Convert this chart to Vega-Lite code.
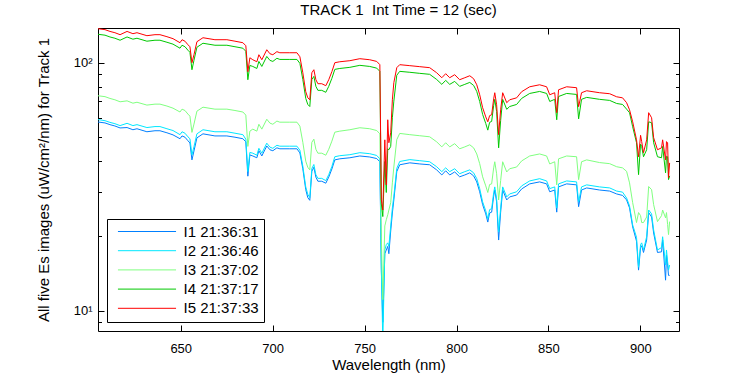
{
"$schema": "https://vega.github.io/schema/vega-lite/v6.json",
"width": 581, "height": 303,
"autosize": {"type": "none"},
"padding": {"left": 98, "top": 28, "right": 71, "bottom": 44},
"background": "white",
"title": {"text": "TRACK 1\u00a0 Int Time = 12 (sec)", "fontSize": 15, "font": "Liberation Sans", "fontWeight": "normal", "color": "black", "dx": 10, "dy": 15, "offset": 11, "baseline": "alphabetic"},
"data": {"values": [
{"wl":605.0,"I1 21:36:31":57.7,"I2 21:36:46":59.0,"I3 21:37:02":73.6,"I4 21:37:17":130.2,"I5 21:37:33":137.1},
{"wl":608.8,"I1 21:36:31":57.2,"I2 21:36:46":58.4,"I3 21:37:02":73.0,"I4 21:37:17":129.1,"I5 21:37:33":135.9},
{"wl":611.5,"I1 21:36:31":56.3,"I2 21:36:46":57.5,"I3 21:37:02":71.8,"I4 21:37:17":127.0,"I5 21:37:33":133.7},
{"wl":614.2,"I1 21:36:31":55.6,"I2 21:36:46":56.8,"I3 21:37:02":70.9,"I4 21:37:17":125.5,"I5 21:37:33":132.1},
{"wl":617.0,"I1 21:36:31":54.6,"I2 21:36:46":55.8,"I3 21:37:02":69.6,"I4 21:37:17":123.2,"I5 21:37:33":129.7},
{"wl":620.8,"I1 21:36:31":54.8,"I2 21:36:46":57.0,"I3 21:37:02":70.2,"I4 21:37:17":127.0,"I5 21:37:33":133.7},
{"wl":624.0,"I1 21:36:31":53.7,"I2 21:36:46":55.8,"I3 21:37:02":68.7,"I4 21:37:17":124.4,"I5 21:37:33":130.9},
{"wl":626.2,"I1 21:36:31":54.2,"I2 21:36:46":56.3,"I3 21:37:02":69.3,"I4 21:37:17":125.5,"I5 21:37:33":132.1},
{"wl":631.6,"I1 21:36:31":52.7,"I2 21:36:46":54.8,"I3 21:37:02":67.5,"I4 21:37:17":122.1,"I5 21:37:33":128.5},
{"wl":636.0,"I1 21:36:31":53.2,"I2 21:36:46":55.3,"I3 21:37:02":68.1,"I4 21:37:17":123.2,"I5 21:37:33":129.7},
{"wl":638.7,"I1 21:36:31":53.2,"I2 21:36:46":55.3,"I3 21:37:02":68.1,"I4 21:37:17":123.2,"I5 21:37:33":129.7},
{"wl":642.5,"I1 21:36:31":52.2,"I2 21:36:46":54.2,"I3 21:37:02":66.9,"I4 21:37:17":120.9,"I5 21:37:33":127.3},
{"wl":645.8,"I1 21:36:31":51.2,"I2 21:36:46":53.3,"I3 21:37:02":65.6,"I4 21:37:17":118.8,"I5 21:37:33":125.0},
{"wl":649.6,"I1 21:36:31":49.4,"I2 21:36:46":51.3,"I3 21:37:02":63.3,"I4 21:37:17":114.4,"I5 21:37:33":120.4},
{"wl":650.7,"I1 21:36:31":50.7,"I2 21:36:46":52.7,"I3 21:37:02":65.0,"I4 21:37:17":117.6,"I5 21:37:33":123.8},
{"wl":652.3,"I1 21:36:31":50.1,"I2 21:36:46":52.0,"I3 21:37:02":64.2,"I4 21:37:17":116.0,"I5 21:37:33":122.1},
{"wl":653.9,"I1 21:36:31":48.5,"I2 21:36:46":50.3,"I3 21:37:02":62.1,"I4 21:37:17":112.3,"I5 21:37:33":118.2},
{"wl":655.0,"I1 21:36:31":47.5,"I2 21:36:46":49.4,"I3 21:37:02":60.9,"I4 21:37:17":110.2,"I5 21:37:33":116.0},
{"wl":656.1,"I1 21:36:31":40.6,"I2 21:36:46":42.5,"I3 21:37:02":52.4,"I4 21:37:17":93.7,"I5 21:37:33":100.0},
{"wl":657.2,"I1 21:36:31":44.1,"I2 21:36:46":45.9,"I3 21:37:02":56.6,"I4 21:37:17":102.3,"I5 21:37:33":107.7},
{"wl":658.8,"I1 21:36:31":49.8,"I2 21:36:46":51.7,"I3 21:37:02":63.8,"I4 21:37:17":115.4,"I5 21:37:33":121.5},
{"wl":662.1,"I1 21:36:31":51.7,"I2 21:36:46":53.7,"I3 21:37:02":66.2,"I4 21:37:17":119.8,"I5 21:37:33":126.1},
{"wl":668.6,"I1 21:36:31":50.7,"I2 21:36:46":52.7,"I3 21:37:02":65.0,"I4 21:37:17":117.6,"I5 21:37:33":123.8},
{"wl":675.1,"I1 21:36:31":50.7,"I2 21:36:46":52.7,"I3 21:37:02":65.0,"I4 21:37:17":117.6,"I5 21:37:33":123.8},
{"wl":679.5,"I1 21:36:31":50.1,"I2 21:36:46":52.0,"I3 21:37:02":64.2,"I4 21:37:17":116.0,"I5 21:37:33":122.1},
{"wl":683.8,"I1 21:36:31":49.4,"I2 21:36:46":51.3,"I3 21:37:02":63.3,"I4 21:37:17":114.4,"I5 21:37:33":120.4},
{"wl":685.4,"I1 21:36:31":48.0,"I2 21:36:46":49.2,"I3 21:37:02":61.5,"I4 21:37:17":111.2,"I5 21:37:33":117.1},
{"wl":686.5,"I1 21:36:31":34.9,"I2 21:36:46":36.4,"I3 21:37:02":46.0,"I4 21:37:17":85.4,"I5 21:37:33":92.0},
{"wl":687.6,"I1 21:36:31":42.5,"I2 21:36:46":43.5,"I3 21:37:02":53.0,"I4 21:37:17":97.5,"I5 21:37:33":104.7},
{"wl":689.2,"I1 21:36:31":42.1,"I2 21:36:46":43.2,"I3 21:37:02":54.0,"I4 21:37:17":96.6,"I5 21:37:33":102.8},
{"wl":691.4,"I1 21:36:31":41.4,"I2 21:36:46":42.4,"I3 21:37:02":53.0,"I4 21:37:17":94.8,"I5 21:37:33":100.9},
{"wl":692.5,"I1 21:36:31":44.2,"I2 21:36:46":45.2,"I3 21:37:02":56.5,"I4 21:37:17":101.2,"I5 21:37:33":107.7},
{"wl":694.1,"I1 21:36:31":42.1,"I2 21:36:46":43.2,"I3 21:37:02":54.0,"I4 21:37:17":96.6,"I5 21:37:33":102.8},
{"wl":696.8,"I1 21:36:31":46.2,"I2 21:36:46":47.4,"I3 21:37:02":59.2,"I4 21:37:17":106.0,"I5 21:37:33":112.8},
{"wl":698.5,"I1 21:36:31":44.6,"I2 21:36:46":45.7,"I3 21:37:02":57.1,"I4 21:37:17":102.2,"I5 21:37:33":108.7},
{"wl":700.1,"I1 21:36:31":44.2,"I2 21:36:46":45.2,"I3 21:37:02":56.5,"I4 21:37:17":101.2,"I5 21:37:33":107.7},
{"wl":702.3,"I1 21:36:31":45.4,"I2 21:36:46":46.5,"I3 21:37:02":58.2,"I4 21:37:17":104.2,"I5 21:37:33":110.8},
{"wl":703.9,"I1 21:36:31":45.0,"I2 21:36:46":46.1,"I3 21:37:02":57.6,"I4 21:37:17":103.1,"I5 21:37:33":109.7},
{"wl":709.3,"I1 21:36:31":45.0,"I2 21:36:46":46.1,"I3 21:37:02":57.6,"I4 21:37:17":103.1,"I5 21:37:33":109.7},
{"wl":713.2,"I1 21:36:31":45.0,"I2 21:36:46":46.1,"I3 21:37:02":57.6,"I4 21:37:17":103.1,"I5 21:37:33":109.7},
{"wl":714.8,"I1 21:36:31":43.3,"I2 21:36:46":44.4,"I3 21:37:02":55.5,"I4 21:37:17":99.4,"I5 21:37:33":105.7},
{"wl":716.4,"I1 21:36:31":37.4,"I2 21:36:46":38.3,"I3 21:37:02":47.8,"I4 21:37:17":85.6,"I5 21:37:33":91.1},
{"wl":718.0,"I1 21:36:31":30.8,"I2 21:36:46":31.6,"I3 21:37:02":40.1,"I4 21:37:17":71.8,"I5 21:37:33":76.4},
{"wl":719.1,"I1 21:36:31":28.6,"I2 21:36:46":29.5,"I3 21:37:02":37.9,"I4 21:37:17":67.9,"I5 21:37:33":72.2},
{"wl":720.2,"I1 21:36:31":27.9,"I2 21:36:46":28.6,"I3 21:37:02":37.0,"I4 21:37:17":66.6,"I5 21:37:33":70.9},
{"wl":721.3,"I1 21:36:31":36.5,"I2 21:36:46":37.5,"I3 21:37:02":47.8,"I4 21:37:17":85.6,"I5 21:37:33":91.1},
{"wl":722.4,"I1 21:36:31":37.9,"I2 21:36:46":38.9,"I3 21:37:02":49.2,"I4 21:37:17":88.1,"I5 21:37:33":93.7},
{"wl":723.5,"I1 21:36:31":34.6,"I2 21:36:46":35.4,"I3 21:37:02":44.8,"I4 21:37:17":80.3,"I5 21:37:33":85.4},
{"wl":724.6,"I1 21:36:31":33.3,"I2 21:36:46":34.2,"I3 21:37:02":43.2,"I4 21:37:17":77.4,"I5 21:37:33":82.3},
{"wl":726.7,"I1 21:36:31":33.3,"I2 21:36:46":34.2,"I3 21:37:02":43.2,"I4 21:37:17":77.4,"I5 21:37:33":82.3},
{"wl":728.9,"I1 21:36:31":32.7,"I2 21:36:46":33.5,"I3 21:37:02":42.4,"I4 21:37:17":76.0,"I5 21:37:33":80.8},
{"wl":730.5,"I1 21:36:31":34.6,"I2 21:36:46":35.4,"I3 21:37:02":44.8,"I4 21:37:17":80.3,"I5 21:37:33":85.4},
{"wl":732.2,"I1 21:36:31":37.3,"I2 21:36:46":38.2,"I3 21:37:02":48.3,"I4 21:37:17":86.5,"I5 21:37:33":92.0},
{"wl":733.8,"I1 21:36:31":40.6,"I2 21:36:46":41.8,"I3 21:37:02":52.5,"I4 21:37:17":94.0,"I5 21:37:33":100.0},
{"wl":736.5,"I1 21:36:31":41.0,"I2 21:36:46":42.2,"I3 21:37:02":53.0,"I4 21:37:17":94.8,"I5 21:37:33":100.9},
{"wl":742.0,"I1 21:36:31":41.4,"I2 21:36:46":42.6,"I3 21:37:02":53.7,"I4 21:37:17":95.8,"I5 21:37:33":101.9},
{"wl":747.4,"I1 21:36:31":42.1,"I2 21:36:46":43.4,"I3 21:37:02":54.7,"I4 21:37:17":97.6,"I5 21:37:33":103.8},
{"wl":752.8,"I1 21:36:31":41.7,"I2 21:36:46":43.0,"I3 21:37:02":54.2,"I4 21:37:17":96.6,"I5 21:37:33":102.8},
{"wl":756.6,"I1 21:36:31":41.1,"I2 21:36:46":42.3,"I3 21:37:02":53.3,"I4 21:37:17":95.1,"I5 21:37:33":101.2},
{"wl":758.3,"I1 21:36:31":39.9,"I2 21:36:46":41.0,"I3 21:37:02":51.7,"I4 21:37:17":92.3,"I5 21:37:33":98.2},
{"wl":759.1,"I1 21:36:31":14.5,"I2 21:36:46":15.0,"I3 21:37:02":20.0,"I4 21:37:17":27.0,"I5 21:37:33":28.1},
{"wl":759.9,"I1 21:36:31":9.0,"I2 21:36:46":7.5,"I3 21:37:02":11.1,"I4 21:37:17":24.0,"I5 21:37:33":25.5},
{"wl":761.0,"I1 21:36:31":17.0,"I2 21:36:46":17.6,"I3 21:37:02":22.0,"I4 21:37:17":40.0,"I5 21:37:33":48.9},
{"wl":761.8,"I1 21:36:31":17.6,"I2 21:36:46":18.5,"I3 21:37:02":23.3,"I4 21:37:17":30.0,"I5 21:37:33":32.2},
{"wl":762.6,"I1 21:36:31":18.2,"I2 21:36:46":18.8,"I3 21:37:02":24.4,"I4 21:37:17":45.0,"I5 21:37:33":58.9},
{"wl":763.2,"I1 21:36:31":17.0,"I2 21:36:46":18.2,"I3 21:37:02":25.5,"I4 21:37:17":44.6,"I5 21:37:33":47.6},
{"wl":764.2,"I1 21:36:31":21.0,"I2 21:36:46":22.0,"I3 21:37:02":27.3,"I4 21:37:17":46.0,"I5 21:37:33":52.2},
{"wl":765.1,"I1 21:36:31":24.8,"I2 21:36:46":26.0,"I3 21:37:02":32.8,"I4 21:37:17":60.0,"I5 21:37:33":70.9},
{"wl":765.9,"I1 21:36:31":28.0,"I2 21:36:46":29.0,"I3 21:37:02":38.0,"I4 21:37:17":70.0,"I5 21:37:33":83.1},
{"wl":767.5,"I1 21:36:31":36.4,"I2 21:36:46":37.5,"I3 21:37:02":49.0,"I4 21:37:17":89.0,"I5 21:37:33":95.5},
{"wl":769.1,"I1 21:36:31":38.8,"I2 21:36:46":40.0,"I3 21:37:02":51.9,"I4 21:37:17":92.3,"I5 21:37:33":98.2},
{"wl":774.6,"I1 21:36:31":39.5,"I2 21:36:46":40.7,"I3 21:37:02":51.3,"I4 21:37:17":91.5,"I5 21:37:33":97.3},
{"wl":780.0,"I1 21:36:31":39.1,"I2 21:36:46":40.3,"I3 21:37:02":50.8,"I4 21:37:17":90.6,"I5 21:37:33":96.4},
{"wl":785.4,"I1 21:36:31":38.8,"I2 21:36:46":39.9,"I3 21:37:02":50.3,"I4 21:37:17":89.8,"I5 21:37:33":95.5},
{"wl":789.2,"I1 21:36:31":37.0,"I2 21:36:46":38.1,"I3 21:37:02":48.0,"I4 21:37:17":85.6,"I5 21:37:33":91.1},
{"wl":792.0,"I1 21:36:31":35.3,"I2 21:36:46":36.4,"I3 21:37:02":45.8,"I4 21:37:17":81.8,"I5 21:37:33":87.0},
{"wl":794.1,"I1 21:36:31":36.7,"I2 21:36:46":37.7,"I3 21:37:02":47.6,"I4 21:37:17":84.9,"I5 21:37:33":90.3},
{"wl":796.3,"I1 21:36:31":35.3,"I2 21:36:46":36.4,"I3 21:37:02":45.8,"I4 21:37:17":81.8,"I5 21:37:33":87.0},
{"wl":799.0,"I1 21:36:31":36.3,"I2 21:36:46":37.4,"I3 21:37:02":47.2,"I4 21:37:17":84.1,"I5 21:37:33":89.5},
{"wl":801.7,"I1 21:36:31":34.7,"I2 21:36:46":35.7,"I3 21:37:02":45.0,"I4 21:37:17":80.3,"I5 21:37:33":85.4},
{"wl":804.5,"I1 21:36:31":35.3,"I2 21:36:46":36.4,"I3 21:37:02":45.8,"I4 21:37:17":81.8,"I5 21:37:33":87.0},
{"wl":807.2,"I1 21:36:31":36.0,"I2 21:36:46":37.0,"I3 21:37:02":46.7,"I4 21:37:17":83.3,"I5 21:37:33":88.6},
{"wl":809.3,"I1 21:36:31":35.0,"I2 21:36:46":36.0,"I3 21:37:02":45.4,"I4 21:37:17":81.0,"I5 21:37:33":86.2},
{"wl":811.0,"I1 21:36:31":33.1,"I2 21:36:46":34.1,"I3 21:37:02":42.9,"I4 21:37:17":76.6,"I5 21:37:33":81.5},
{"wl":812.6,"I1 21:36:31":30.2,"I2 21:36:46":31.1,"I3 21:37:02":39.2,"I4 21:37:17":69.8,"I5 21:37:33":74.3},
{"wl":814.2,"I1 21:36:31":26.8,"I2 21:36:46":27.5,"I3 21:37:02":34.7,"I4 21:37:17":61.9,"I5 21:37:33":65.9},
{"wl":815.9,"I1 21:36:31":24.6,"I2 21:36:46":25.3,"I3 21:37:02":31.9,"I4 21:37:17":56.9,"I5 21:37:33":60.5},
{"wl":817.0,"I1 21:36:31":22.8,"I2 21:36:46":23.5,"I3 21:37:02":30.0,"I4 21:37:17":53.5,"I5 21:37:33":57.8},
{"wl":818.0,"I1 21:36:31":24.8,"I2 21:36:46":25.6,"I3 21:37:02":32.3,"I4 21:37:17":57.5,"I5 21:37:33":61.2},
{"wl":819.1,"I1 21:36:31":25.0,"I2 21:36:46":25.8,"I3 21:37:02":32.5,"I4 21:37:17":58.0,"I5 21:37:33":61.7},
{"wl":820.2,"I1 21:36:31":29.0,"I2 21:36:46":29.9,"I3 21:37:02":37.7,"I4 21:37:17":67.2,"I5 21:37:33":71.5},
{"wl":820.8,"I1 21:36:31":30.7,"I2 21:36:46":31.6,"I3 21:37:02":39.9,"I4 21:37:17":71.2,"I5 21:37:33":75.7},
{"wl":821.8,"I1 21:36:31":27.5,"I2 21:36:46":28.3,"I3 21:37:02":35.7,"I4 21:37:17":63.6,"I5 21:37:33":67.7},
{"wl":822.9,"I1 21:36:31":19.3,"I2 21:36:46":20.8,"I3 21:37:02":28.0,"I4 21:37:17":45.4,"I5 21:37:33":51.3},
{"wl":824.0,"I1 21:36:31":25.0,"I2 21:36:46":26.0,"I3 21:37:02":33.5,"I4 21:37:17":58.5,"I5 21:37:33":64.6},
{"wl":825.1,"I1 21:36:31":30.7,"I2 21:36:46":31.6,"I3 21:37:02":39.9,"I4 21:37:17":71.2,"I5 21:37:33":75.7},
{"wl":827.3,"I1 21:36:31":28.0,"I2 21:36:46":28.8,"I3 21:37:02":36.3,"I4 21:37:17":64.9,"I5 21:37:33":69.0},
{"wl":828.9,"I1 21:36:31":28.8,"I2 21:36:46":29.6,"I3 21:37:02":37.4,"I4 21:37:17":66.6,"I5 21:37:33":70.9},
{"wl":832.7,"I1 21:36:31":29.3,"I2 21:36:46":30.2,"I3 21:37:02":38.0,"I4 21:37:17":67.9,"I5 21:37:33":72.2},
{"wl":835.4,"I1 21:36:31":31.0,"I2 21:36:46":31.9,"I3 21:37:02":40.2,"I4 21:37:17":71.8,"I5 21:37:33":76.4},
{"wl":839.8,"I1 21:36:31":32.5,"I2 21:36:46":33.4,"I3 21:37:02":42.1,"I4 21:37:17":75.2,"I5 21:37:33":80.0},
{"wl":845.2,"I1 21:36:31":33.1,"I2 21:36:46":34.1,"I3 21:37:02":42.9,"I4 21:37:17":76.6,"I5 21:37:33":81.5},
{"wl":849.0,"I1 21:36:31":32.5,"I2 21:36:46":33.4,"I3 21:37:02":42.1,"I4 21:37:17":75.2,"I5 21:37:33":80.0},
{"wl":850.7,"I1 21:36:31":30.2,"I2 21:36:46":31.1,"I3 21:37:02":39.1,"I4 21:37:17":69.8,"I5 21:37:33":74.3},
{"wl":853.4,"I1 21:36:31":30.7,"I2 21:36:46":31.6,"I3 21:37:02":39.9,"I4 21:37:17":71.2,"I5 21:37:33":75.7},
{"wl":854.5,"I1 21:36:31":25.0,"I2 21:36:46":26.0,"I3 21:37:02":32.2,"I4 21:37:17":58.9,"I5 21:37:33":62.9},
{"wl":855.5,"I1 21:36:31":31.6,"I2 21:36:46":32.5,"I3 21:37:02":41.0,"I4 21:37:17":73.1,"I5 21:37:33":77.8},
{"wl":859.9,"I1 21:36:31":32.5,"I2 21:36:46":33.4,"I3 21:37:02":42.1,"I4 21:37:17":75.2,"I5 21:37:33":80.0},
{"wl":865.3,"I1 21:36:31":32.2,"I2 21:36:46":33.1,"I3 21:37:02":41.8,"I4 21:37:17":74.5,"I5 21:37:33":79.3},
{"wl":866.4,"I1 21:36:31":26.3,"I2 21:36:46":27.5,"I3 21:37:02":33.8,"I4 21:37:17":59.4,"I5 21:37:33":66.5},
{"wl":868.0,"I1 21:36:31":30.7,"I2 21:36:46":31.6,"I3 21:37:02":39.9,"I4 21:37:17":71.2,"I5 21:37:33":75.7},
{"wl":870.8,"I1 21:36:31":31.3,"I2 21:36:46":32.2,"I3 21:37:02":40.6,"I4 21:37:17":72.5,"I5 21:37:33":77.1},
{"wl":877.8,"I1 21:36:31":30.7,"I2 21:36:46":31.6,"I3 21:37:02":39.6,"I4 21:37:17":71.2,"I5 21:37:33":75.7},
{"wl":883.3,"I1 21:36:31":30.4,"I2 21:36:46":31.3,"I3 21:37:02":39.2,"I4 21:37:17":70.5,"I5 21:37:33":75.0},
{"wl":887.1,"I1 21:36:31":29.6,"I2 21:36:46":30.4,"I3 21:37:02":38.1,"I4 21:37:17":68.5,"I5 21:37:33":72.9},
{"wl":890.3,"I1 21:36:31":29.2,"I2 21:36:46":30.1,"I3 21:37:02":37.7,"I4 21:37:17":67.9,"I5 21:37:33":72.2},
{"wl":892.5,"I1 21:36:31":28.0,"I2 21:36:46":28.5,"I3 21:37:02":36.5,"I4 21:37:17":65.0,"I5 21:37:33":69.0},
{"wl":894.1,"I1 21:36:31":26.0,"I2 21:36:46":26.5,"I3 21:37:02":32.8,"I4 21:37:17":62.9,"I5 21:37:33":64.6},
{"wl":895.8,"I1 21:36:31":21.8,"I2 21:36:46":22.2,"I3 21:37:02":27.3,"I4 21:37:17":55.2,"I5 21:37:33":57.8},
{"wl":897.9,"I1 21:36:31":19.1,"I2 21:36:46":19.8,"I3 21:37:02":22.7,"I4 21:37:17":47.6,"I5 21:37:33":48.9},
{"wl":899.0,"I1 21:36:31":14.6,"I2 21:36:46":15.0,"I3 21:37:02":24.9,"I4 21:37:17":35.4,"I5 21:37:33":41.8},
{"wl":900.1,"I1 21:36:31":18.0,"I2 21:36:46":18.5,"I3 21:37:02":24.2,"I4 21:37:17":47.0,"I5 21:37:33":51.0},
{"wl":900.7,"I1 21:36:31":18.3,"I2 21:36:46":18.8,"I3 21:37:02":22.7,"I4 21:37:17":46.0,"I5 21:37:33":48.1},
{"wl":901.7,"I1 21:36:31":17.2,"I2 21:36:46":17.6,"I3 21:37:02":22.7,"I4 21:37:17":41.8,"I5 21:37:33":43.4},
{"wl":903.4,"I1 21:36:31":19.3,"I2 21:36:46":19.9,"I3 21:37:02":23.9,"I4 21:37:17":44.6,"I5 21:37:33":48.9},
{"wl":904.5,"I1 21:36:31":24.9,"I2 21:36:46":25.5,"I3 21:37:02":31.7,"I4 21:37:17":57.8,"I5 21:37:33":62.9},
{"wl":906.1,"I1 21:36:31":23.9,"I2 21:36:46":24.6,"I3 21:37:02":30.8,"I4 21:37:17":57.3,"I5 21:37:33":60.0},
{"wl":907.2,"I1 21:36:31":20.6,"I2 21:36:46":21.2,"I3 21:37:02":26.8,"I4 21:37:17":47.6,"I5 21:37:33":49.9},
{"wl":909.3,"I1 21:36:31":17.2,"I2 21:36:46":17.6,"I3 21:37:02":22.9,"I4 21:37:17":41.8,"I5 21:37:33":44.6},
{"wl":911.5,"I1 21:36:31":17.3,"I2 21:36:46":18.0,"I3 21:37:02":24.2,"I4 21:37:17":41.4,"I5 21:37:33":45.4},
{"wl":912.1,"I1 21:36:31":19.3,"I2 21:36:46":19.9,"I3 21:37:02":25.5,"I4 21:37:17":46.0,"I5 21:37:33":48.9},
{"wl":913.7,"I1 21:36:31":13.3,"I2 21:36:46":15.3,"I3 21:37:02":23.7,"I4 21:37:17":36.0,"I5 21:37:33":40.6},
{"wl":914.2,"I1 21:36:31":16.8,"I2 21:36:46":17.6,"I3 21:37:02":24.9,"I4 21:37:17":42.0,"I5 21:37:33":48.1},
{"wl":914.8,"I1 21:36:31":15.3,"I2 21:36:46":15.8,"I3 21:37:02":22.3,"I4 21:37:17":41.8,"I5 21:37:33":47.6},
{"wl":915.3,"I1 21:36:31":13.9,"I2 21:36:46":14.6,"I3 21:37:02":20.3,"I4 21:37:17":33.8,"I5 21:37:33":34.4},
{"wl":915.9,"I1 21:36:31":13.9,"I2 21:36:46":15.3,"I3 21:37:02":22.9,"I4 21:37:17":35.0,"I5 21:37:33":39.5}
]},
"transform": [{"fold": ["I1 21:36:31","I2 21:36:46","I3 21:37:02","I4 21:37:17","I5 21:37:33"], "as": ["series","v"]}],
"layer": [
 {"mark": {"type": "line", "strokeWidth": 1, "clip": true},
  "encoding": {
   "x": {"field": "wl", "type": "quantitative", "scale": {"domain": [605, 921], "nice": false, "zero": false},
         "axis": {"orient": "bottom", "values": [650,700,750,800,850,900], "tickSize": -6, "labelPadding": 17, "title": "Wavelength (nm)", "titlePadding": 2}},
   "y": {"field": "v", "type": "quantitative", "scale": {"type": "log", "domain": [8.3, 138], "nice": false},
         "axis": {"orient": "left", "values": [9,10,20,30,40,50,60,70,80,90,100], "labelExpr": "datum.value == 100 ? '10²' : (datum.value == 10 ? '10¹' : '')", "tickSize": {"expr": "(datum.value == 10 || datum.value == 100) ? -6 : -3.5"}, "labelPadding": 12, "title": "All five Es images (uW/cm²/nm) for Track 1", "titlePadding": 22}},
   "color": {"field": "series", "type": "nominal",
             "scale": {"domain": ["I1 21:36:31","I2 21:36:46","I3 21:37:02","I4 21:37:17","I5 21:37:33"], "range": ["#0080ff","#00e8ff","#80ff80","#00c800","#ff0000"]},
             "legend": {"title": null, "orient": "bottom-left", "offset": 9, "strokeColor": "black", "fillColor": "white", "padding": 5, "symbolType": "M-5,0H5", "symbolSize": 135, "symbolStrokeWidth": 1, "symbolOffset": 27.5, "labelOffset": 29, "labelFontSize": 15, "labelFont": "Liberation Sans", "labelColor": "black", "rowPadding": 3.2, "cornerRadius": 0, "labelLimit": 0}}
  }},
 {"mark": {"type": "point", "opacity": 0},
  "encoding": {
   "x": {"field": "wl", "type": "quantitative", "axis": {"orient": "top", "values": [650,700,750,800,850,900], "tickSize": -6, "labels": false, "title": null}},
   "y": {"field": "v", "type": "quantitative", "axis": {"orient": "right", "values": [9,10,20,30,40,50,60,70,80,90,100], "tickSize": {"expr": "(datum.value == 10 || datum.value == 100) ? -6 : -3.5"}, "labels": false, "title": null}}
  }}
],
"resolve": {"axis": {"x": "independent", "y": "independent"}},
"config": {
 "font": "Liberation Sans",
 "view": {"stroke": "black", "strokeWidth": 1},
 "axis": {"domain": false, "grid": false, "tickColor": "black", "tickWidth": 1, "labelColor": "black", "titleColor": "black", "labelFontSize": 13, "titleFontSize": 15, "titleFontWeight": "normal", "labelOverlap": false, "labelFont": "Liberation Sans", "titleFont": "Liberation Sans"}
}
}
